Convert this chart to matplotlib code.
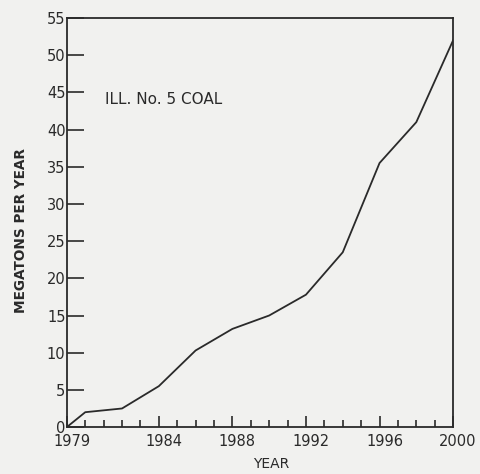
import matplotlib
matplotlib.use("Agg")
import matplotlib.pyplot as plt
import matplotlib.transforms as mtransforms
import numpy as np

# values
years = [1979, 1980, 1982, 1984, 1986, 1988, 1990, 1992, 1994, 1996, 1998, 2000]
megatons = [0, 2.0, 2.5, 5.5, 10.3, 13.2, 15.0, 17.8, 23.5, 35.5, 41.0, 52.0]

major_years = [1979, 1984, 1988, 1992, 1996, 2000]
y_ticks = list(range(0, 56, 5))

bg = '#f1f1ef'
ink = '#2a2a2a'

fig = plt.figure(figsize=(4.81, 4.74), dpi=100, facecolor=bg)
ax = fig.add_axes([0.139, 0.099, 0.803, 0.863], facecolor=bg)

ax.plot(years, megatons, color=ink, linewidth=1.3)

ax.set_xlim(1979, 2000)
ax.set_ylim(0, 55)

ax.set_xticks(major_years)
ax.set_xticklabels([str(y) for y in major_years])
ax.set_xticks(np.arange(1980, 2000, 1), minor=True)
ax.set_yticks(y_ticks)

ax.tick_params(axis='x', which='major', direction='in', length=8, width=1.2,
               labelsize=10.5, pad=5, colors=ink)
ax.tick_params(axis='x', which='minor', direction='in', length=5, width=1.2, colors=ink)
ax.tick_params(axis='y', direction='in', length=12, width=1.2, labelsize=10.5,
               pad=1, colors=ink)

# year labels in the scan sit a little right of their ticks
shift = mtransforms.ScaledTranslation(5 / 100, 0, fig.dpi_scale_trans)
for lab in ax.get_xticklabels():
    lab.set_transform(lab.get_transform() + shift)

for s in ax.spines.values():
    s.set_color(ink)
    s.set_linewidth(1.3)

ax.set_xlabel('YEAR', fontsize=10, color=ink)
ax.xaxis.set_label_coords(0.53, -0.072)
ax.set_ylabel('MEGATONS PER YEAR', fontsize=9.8, color=ink, fontweight='bold')
ax.yaxis.set_label_coords(-0.1, 0.48)

ax.text(0.1, 0.8, 'ILL. No. 5 COAL', transform=ax.transAxes, fontsize=11,
        color=ink, va='center', ha='left')

fig.savefig('out.png', dpi=100, facecolor=bg)
